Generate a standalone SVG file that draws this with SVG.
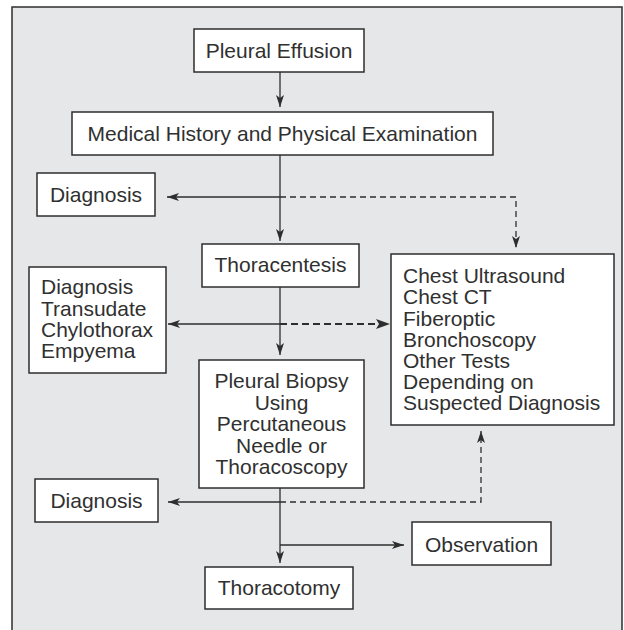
<svg xmlns="http://www.w3.org/2000/svg" width="624" height="630" viewBox="0 0 624 630">
<style>
.box{fill:#fff;stroke:#2e2e2e;stroke-width:1.5}
.t{font-family:"Liberation Sans",Arial,sans-serif;font-size:21px;fill:#303030}
.c{text-anchor:middle}
.ln{fill:none;stroke:#2e2e2e;stroke-width:1.3}
.dt{fill:none;stroke:#2e2e2e;stroke-width:1.3;stroke-dasharray:6 4}
.dk{fill:none;stroke:#2e2e2e;stroke-width:2.2;stroke-dasharray:7 4}
</style>
<defs>
<marker id="ah" viewBox="0 0 12 8" refX="12" refY="4" markerWidth="12" markerHeight="8" markerUnits="userSpaceOnUse" orient="auto">
<path d="M0,0 L12,4 L0,8 L3,4 Z" fill="#2e2e2e"/>
</marker>
<marker id="ahk" viewBox="0 0 14 10" refX="14" refY="5" markerWidth="14" markerHeight="10" markerUnits="userSpaceOnUse" orient="auto">
<path d="M0,0 L14,5 L0,10 L3,5 Z" fill="#2e2e2e"/>
</marker>
</defs>
<rect x="0" y="0" width="624" height="630" fill="#fff"/>
<rect id="frame" x="12" y="7" width="610" height="640" fill="#e6e7e8" stroke="#2e2e2e" stroke-width="1.5"/>
<g id="connectors">
<path class="ln" d="M280,72 V107" marker-end="url(#ah)"/>
<path class="ln" d="M280,155 V241" marker-end="url(#ah)"/>
<path class="ln" d="M280,197 H167" marker-end="url(#ah)"/>
<path class="dt" d="M280,197 H516 V248" marker-end="url(#ah)"/>
<path class="ln" d="M280,287 V355" marker-end="url(#ah)"/>
<path class="ln" d="M280,324 H168" marker-end="url(#ah)"/>
<path class="dk" d="M280,324 H390" marker-end="url(#ahk)"/>
<path class="ln" d="M280,488 V563" marker-end="url(#ah)"/>
<path class="ln" d="M280,502 H168" marker-end="url(#ah)"/>
<path class="dt" d="M280,502 H481 V431" marker-end="url(#ah)"/>
<path class="ln" d="M280,545 H404" marker-end="url(#ah)"/>
</g>
<g id="pleural-effusion">
<rect class="box" x="194" y="29" width="170" height="43"/>
<text class="t c" x="279" y="57.5">Pleural Effusion</text>
</g>
<g id="medical-history">
<rect class="box" x="72" y="112" width="421" height="43"/>
<text class="t c" x="282.5" y="140.5">Medical History and Physical Examination</text>
</g>
<g id="diagnosis-1">
<rect class="box" x="37" y="173" width="118" height="43"/>
<text class="t c" x="96" y="202">Diagnosis</text>
</g>
<g id="thoracentesis">
<rect class="box" x="202" y="244" width="157" height="43"/>
<text class="t c" x="280.5" y="272">Thoracentesis</text>
</g>
<g id="diagnosis-2">
<rect class="box" x="29" y="267" width="137" height="106"/>
<text class="t" x="41" y="294">Diagnosis</text>
<text class="t" x="41" y="316">Transudate</text>
<text class="t" x="41" y="337">Chylothorax</text>
<text class="t" x="41" y="358">Empyema</text>
</g>
<g id="other-tests">
<rect class="box" x="391" y="254" width="223" height="171"/>
<text class="t" x="403" y="283">Chest Ultrasound</text>
<text class="t" x="403" y="304">Chest CT</text>
<text class="t" x="403" y="325.5">Fiberoptic</text>
<text class="t" x="403" y="346.5">Bronchoscopy</text>
<text class="t" x="403" y="368">Other Tests</text>
<text class="t" x="403" y="389">Depending on</text>
<text class="t" x="403" y="410">Suspected Diagnosis</text>
</g>
<g id="pleural-biopsy">
<rect class="box" x="199" y="360" width="165" height="128"/>
<text class="t c" x="281.5" y="388">Pleural Biopsy</text>
<text class="t c" x="281.5" y="409.5">Using</text>
<text class="t c" x="281.5" y="431">Percutaneous</text>
<text class="t c" x="281.5" y="452.5">Needle or</text>
<text class="t c" x="281.5" y="474">Thoracoscopy</text>
</g>
<g id="diagnosis-3">
<rect class="box" x="35" y="479" width="123" height="43"/>
<text class="t c" x="96.5" y="508">Diagnosis</text>
</g>
<g id="observation">
<rect class="box" x="412" y="522" width="139" height="43"/>
<text class="t c" x="481.5" y="551.5">Observation</text>
</g>
<g id="thoracotomy">
<rect class="box" x="205" y="567" width="148" height="42"/>
<text class="t c" x="279" y="594.5">Thoracotomy</text>
</g>
</svg>
